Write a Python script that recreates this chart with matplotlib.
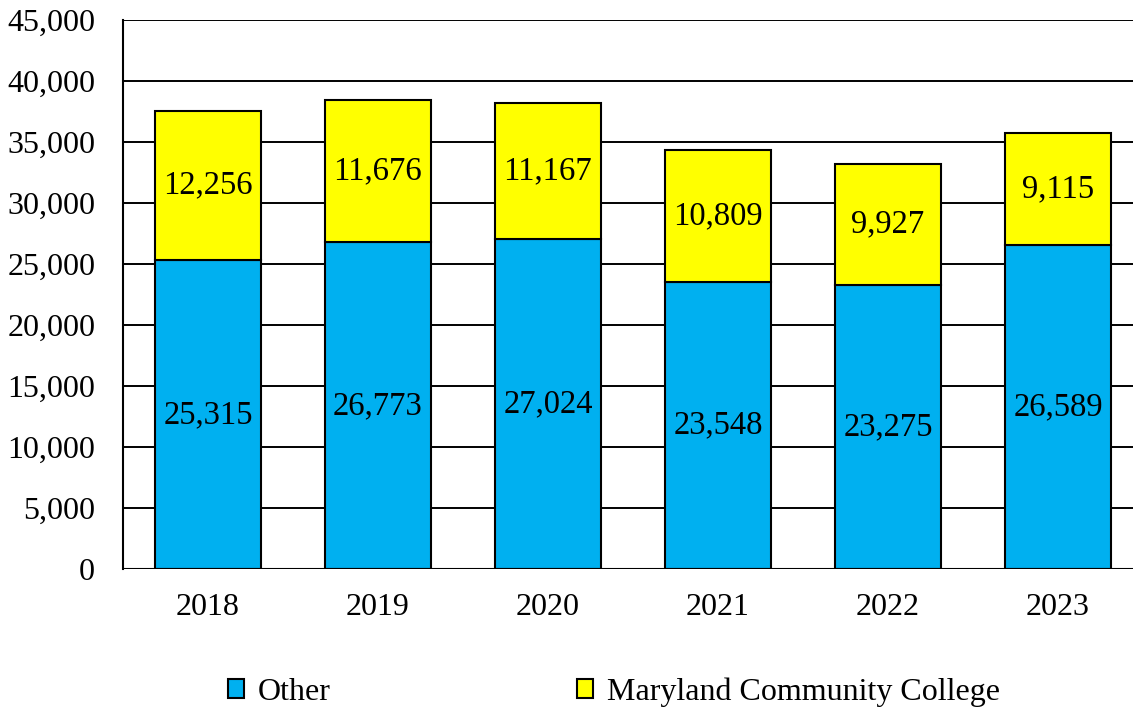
import numpy as np
import matplotlib.pyplot as plt
from matplotlib.patches import Patch

anios = ['2018', '2019', '2020', '2021', '2022', '2023']
otros = [25315, 26773, 27024, 23548, 23275, 26589]
maryland = [12256, 11676, 11167, 10809, 9927, 9115]

plt.rcParams['font.family'] = ['Liberation Serif', 'DejaVu Serif']

fig = plt.figure(figsize=(11.33, 7.08), dpi=100)
# el área del gráfico se sale un poco por la derecha, como en el original
ax = fig.add_axes([123/1133, 1 - 569/708, 1020/1133, 549/708])

x = np.arange(len(anios))
ancho = 0.62
b1 = ax.bar(x, otros, ancho, color='#00B0F0', edgecolor='black', linewidth=1.5, zorder=3)
b2 = ax.bar(x, maryland, ancho, bottom=otros, color='#FFFF00', edgecolor='black', linewidth=1.5, zorder=3)

for i in range(len(anios)):
    ax.text(x[i], otros[i]/2, f'{otros[i]:,}', ha='center', va='center', fontsize=23.5, zorder=4)
    ax.text(x[i], otros[i] + maryland[i]/2, f'{maryland[i]:,}', ha='center', va='center', fontsize=23.5, zorder=4)

ax.set_xlim(-0.5, 5.5)
ax.set_ylim(0, 45000)
ax.set_yticks(np.arange(0, 45001, 5000))
ax.set_yticklabels([f'{v:,}' for v in range(0, 45001, 5000)])
ax.set_xticks(x)
ax.set_xticklabels(anios)
ax.tick_params(axis='both', length=0, labelsize=23)
ax.tick_params(axis='y', pad=20)
ax.tick_params(axis='x', pad=17)
ax.grid(axis='y', color='black', linewidth=1.4, zorder=0)
for s in ['top', 'right', 'bottom']:
    ax.spines[s].set_visible(False)
ax.spines['left'].set_linewidth(1.5)
ax.axhline(0, color='black', linewidth=1.5, zorder=5)

manejadores = [Patch(facecolor='#00B0F0', edgecolor='black', linewidth=1.5),
               Patch(facecolor='#FFFF00', edgecolor='black', linewidth=1.5)]
fig.legend(manejadores, ['Other', 'Maryland Community College'], loc='center',
           bbox_to_anchor=(614/1133, 1 - 692/708), ncol=2, frameon=False, fontsize=23,
           handlelength=0.5, handleheight=0.5, handletextpad=0.45, columnspacing=7.7)

plt.savefig('out.png', dpi=100)
